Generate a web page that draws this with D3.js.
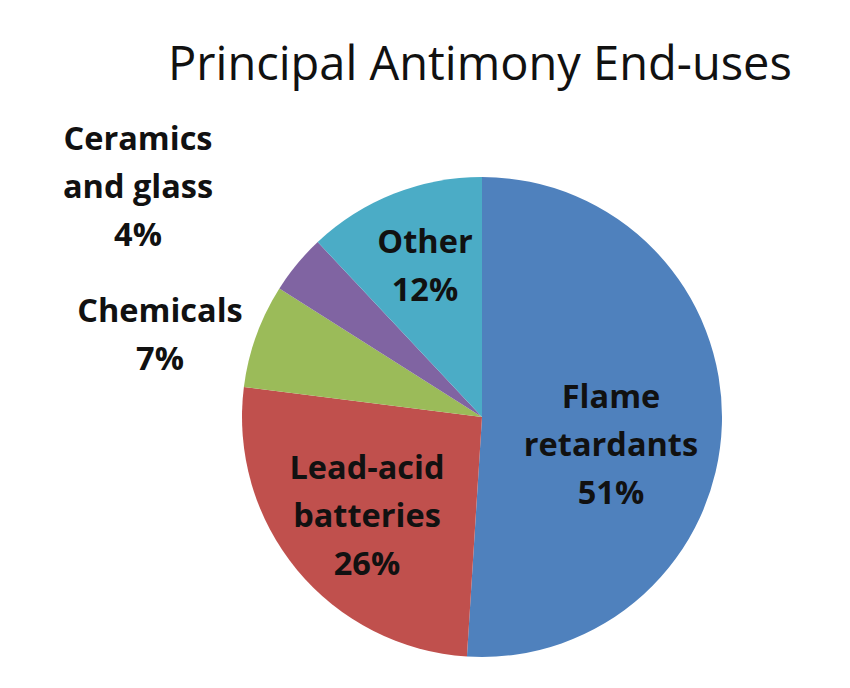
<!DOCTYPE html>
<html><head><meta charset="utf-8">
<script src="https://cdn.jsdelivr.net/npm/d3@7"></script>
<style>body{margin:0;background:#fff}svg{display:block}</style>
</head><body>
<svg id="c" width="850" height="688"></svg>
<script>
const categories = ["Flame retardants", "Lead-acid batteries", "Chemicals", "Ceramics and glass", "Other"];
const values = [51, 26, 7, 4, 12];
const colors = ["#4F81BD", "#C0504D", "#9BBB59", "#8064A2", "#4BACC6"];
const labelLines = [["Flame", "retardants", "51%"], ["Lead-acid", "batteries", "26%"], ["Chemicals", "7%"], ["Ceramics", "and glass", "4%"], ["Other", "12%"]];
const labelPos = [[611, 408], [367, 479], [160, 322], [138, 150], [425, 253]];

const svg = d3.select("#c");
const font = "'Open Sans', sans-serif";
const cx = 482, cy = 417, r = 240;

svg.append("text").attr("x", 480).attr("y", 80).attr("text-anchor", "middle")
  .attr("font-family", font).attr("font-size", 47).attr("fill", "#111")
  .text("Principal Antimony End-uses");

const pie = d3.pie().sort(null).value(d => d)(values);
const arc = d3.arc().innerRadius(0).outerRadius(r);
const g = svg.append("g").attr("transform", `translate(${cx},${cy})`);
g.selectAll("path").data(pie).join("path").attr("d", arc)
  .attr("fill", (d, i) => colors[i]);

labelLines.forEach((lines, i) => {
  const t = svg.append("text").attr("text-anchor", "middle")
    .attr("font-family", font).attr("font-weight", "bold").attr("font-size", 32.5).attr("fill", "#111");
  lines.forEach((s, j) => {
    t.append("tspan").attr("x", labelPos[i][0]).attr("y", labelPos[i][1] + j * 48).text(s);
  });
});
</script>
</body></html>
